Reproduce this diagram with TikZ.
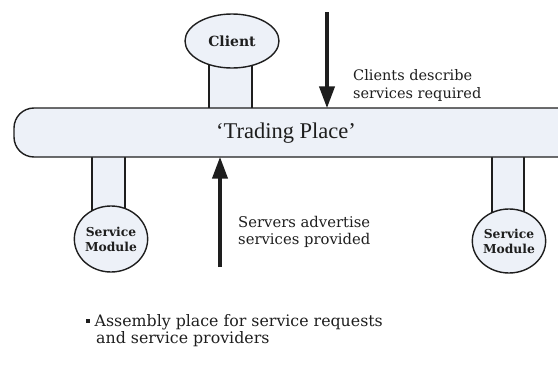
\documentclass[tikz,border=0pt]{standalone}
\usepackage{fontspec}
\setmainfont{DejaVu Serif}
\newfontfamily\tpfont{Liberation Serif}
\usetikzlibrary{shapes.geometric,arrows.meta}
\definecolor{panel}{RGB}{237,241,248}
\definecolor{ink}{RGB}{30,30,30}
\tikzset{
  part/.style={draw=ink, line width=1.4pt, fill=panel},
  bigarrow/.style={draw=ink, line width=4pt, -{Triangle[width=15pt,length=22pt]}, shorten >=-1pt},
  note/.style={anchor=west, align=left, inner sep=0pt, text=ink},
  modlabel/.style={font=\bfseries\fontsize{12.3}{15}\selectfont, align=center, inner sep=0pt, text=ink}
}
\begin{document}
\begin{tikzpicture}[x=1pt,y=-1pt]
  \useasboundingbox (0,0) rectangle (558,367);
  \clip (0,0) rectangle (558,367);

  % stems joining the modules to the shared bar
  \draw[part] (209,60) rectangle (252,109);
  \draw[part] (92,155) rectangle (125,215);
  \draw[part] (492,155) rectangle (524,215);

  % the shared trading bar (runs off the right edge)
  \node[part, rounded corners=20pt, minimum width=570pt, minimum height=49pt,
        inner sep=0pt] (tp) at (299,132.5) {};
  \node[font=\tpfont\fontsize{22.5}{26}\selectfont, text=ink] (tplabel) at (286,133) {‘Trading Place’};

  % client and service modules
  \node[part, ellipse, minimum width=94pt, minimum height=54pt, inner sep=0pt,
        modlabel, font=\bfseries\fontsize{14}{16}\selectfont] (client) at (232,41) {Client};
  \node[part, ellipse, minimum width=73pt, minimum height=66pt, inner sep=0pt,
        modlabel] (smleft) at (111,239) {Service\\Module};
  \node[part, ellipse, minimum width=72pt, minimum height=64pt, inner sep=0pt,
        modlabel] (smright) at (509,241) {Service\\Module};

  % request / advertise arrows
  \coordinate (dstart) at (327,12);
  \coordinate (ustart) at (220,267);
  \draw[bigarrow] (dstart) -- (dstart |- tp.north);
  \draw[bigarrow] (ustart) -- (ustart |- tp.south);

  % annotations
  \node[note, font=\fontsize{14.5}{18}\selectfont] (reqnote) at (353,85)
    {Clients describe\\services required};
  \node[note, font=\fontsize{14.8}{17}\selectfont] (advnote) at (238,232)
    {Servers advertise\\services provided};
  \node[note, font=\fontsize{15.8}{17}\selectfont] (summary) at (86,331)
    {\rule[4pt]{3.5pt}{3.5pt}\hspace{5pt}Assembly place for service requests\\
     \hspace*{10pt}and service providers};
\end{tikzpicture}
\end{document}
